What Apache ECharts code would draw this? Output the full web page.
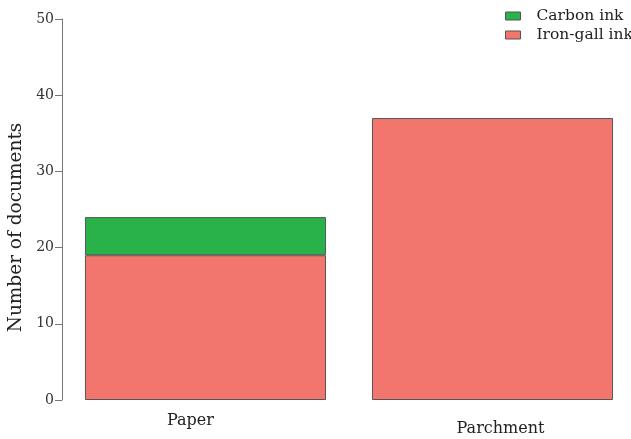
<!DOCTYPE html>
<html><head><meta charset="utf-8">
<script src="https://cdn.jsdelivr.net/npm/echarts@6/dist/echarts.min.js"></script>
<style>html,body{margin:0;padding:0;background:#fff}#c{width:631px;height:439px}</style>
</head><body><div id="c"></div>
<script>
const categories = ['Paper', 'Parchment'];
const ironGall = [19, 37];
const carbon = [5, '-'];
const yTicks = [0, 10, 20, 30, 40, 50];

const font = 'DejaVu Serif';
const chart = echarts.init(document.getElementById('c'), null, {renderer: 'canvas'});
chart.setOption({
  animation: false,
  backgroundColor: '#fff',
  textStyle: {fontFamily: font},
  legend: {
    orient: 'vertical', left: 500, top: 3, itemWidth: 15, itemHeight: 8, itemGap: 3,
    icon: 'rect',
    textStyle: {fontFamily: font, fontSize: 15.5, color: '#222', padding: [0, 0, 0, 11]},
    data: ['Carbon ink', 'Iron-gall ink'],
    itemStyle: {borderColor: '#555', borderWidth: 1}
  },
  grid: {left: 62, width: 574, top: 19, bottom: 39, containLabel: false, outerBoundsMode: 'none'},
  xAxis: {
    type: 'category',
    data: [
      {value: categories[0], textStyle: {padding: [0, 30, 0, 0]}},
      {value: categories[1], textStyle: {padding: [8, 0, 0, 16]}}
    ],
    axisLine: {show: false}, axisTick: {show: false},
    axisLabel: {fontFamily: font, fontSize: 16, color: '#222', margin: 13}
  },
  yAxis: {
    type: 'value', min: yTicks[0], max: yTicks[yTicks.length - 1], interval: 10,
    name: 'Number of documents', nameLocation: 'middle', nameGap: 35,
    nameTextStyle: {fontFamily: font, fontSize: 18.5, color: '#222', padding: [0, 36, 0, 0]},
    axisLine: {show: true, lineStyle: {color: '#777', width: 1}},
    axisTick: {show: true, length: 7, lineStyle: {color: '#777'}},
    axisLabel: {fontFamily: font, fontSize: 14, color: '#333', margin: 8},
    splitLine: {show: false}
  },
  series: [
    {name: 'Iron-gall ink', type: 'bar', stack: 'a', data: ironGall, barCategoryGap: '16%',
     itemStyle: {color: '#f2756e', borderColor: '#555', borderWidth: 1}},
    {name: 'Carbon ink', type: 'bar', stack: 'a', data: carbon, barCategoryGap: '16%',
     itemStyle: {color: '#29b24a', borderColor: '#555', borderWidth: 1}}
  ]
});
</script></body></html>
